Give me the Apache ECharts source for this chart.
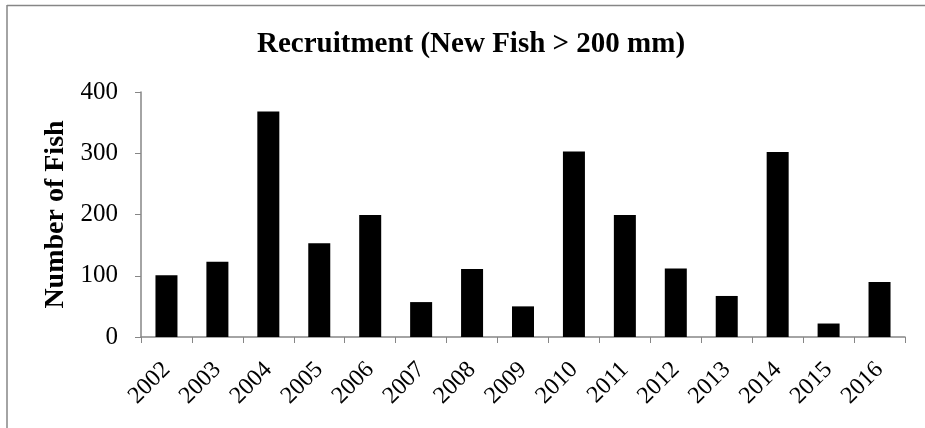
<!DOCTYPE html>
<html>
<head>
<meta charset="utf-8">
<script src="https://cdn.jsdelivr.net/npm/echarts@6/dist/echarts.min.js"></script>
<style>
  html, body { margin: 0; padding: 0; background: #fff; }
  #chart { width: 925px; height: 428px; }
</style>
</head>
<body>
<div id="chart"></div>
<script>
// 年份（类目）
const years = ["2002", "2003", "2004", "2005", "2006", "2007", "2008", "2009",
  "2010", "2011", "2012", "2013", "2014", "2015", "2016"];
// 新鱼数量 (>200 mm)
const newFish = [101, 123, 368, 153, 199, 57, 111, 50, 303, 199, 112, 67, 302, 22, 90];
// y轴刻度
const yMin = 0;
const yMax = 400;
const yStep = 100;

const serif = "'Liberation Serif', 'DejaVu Serif', serif";
const axisGrey = "#868686";

let myChart = echarts.init(document.getElementById("chart"));

let option = {
  animation: false,
  title: {
    text: "Recruitment (New Fish > 200 mm)",
    left: 252,
    top: 25,
    textStyle: {
      fontFamily: serif,
      fontWeight: "bold",
      fontSize: 29,
      color: "#000",
    },
  },
  // 左、上边框
  graphic: [
    {
      type: "line",
      shape: { x1: 7, y1: 5.5, x2: 925, y2: 5.5 },
      style: { stroke: axisGrey, lineWidth: 1.5 },
    },
    {
      type: "line",
      shape: { x1: 7, y1: 5, x2: 7, y2: 428 },
      style: { stroke: axisGrey, lineWidth: 1.5 },
    },
  ],
  grid: {
    left: 141,
    right: 20,
    top: 92,
    bottom: 91,
  },
  xAxis: {
    type: "category",
    data: years,
    boundaryGap: true,
    axisLine: { lineStyle: { color: axisGrey, width: 1.5 } },
    axisTick: { show: true, length: 6, lineStyle: { color: axisGrey } },
    axisLabel: {
      rotate: 45,
      interval: 0,
      margin: 29,
      fontFamily: serif,
      fontSize: 24,
      color: "#000",
    },
  },
  yAxis: {
    type: "value",
    min: yMin,
    max: yMax,
    interval: yStep,
    name: "Number of Fish",
    nameLocation: "middle",
    nameGap: 70,
    nameTextStyle: {
      fontFamily: serif,
      fontWeight: "bold",
      fontSize: 28,
      color: "#000",
    },
    axisLine: { show: true, lineStyle: { color: axisGrey, width: 1.5 } },
    axisTick: { show: true, length: 6, lineStyle: { color: axisGrey } },
    splitLine: { show: false },
    axisLabel: {
      margin: 23,
      fontFamily: serif,
      fontSize: 25,
      color: "#000",
    },
  },
  series: [
    {
      name: "Recruitment",
      type: "bar",
      data: newFish,
      barWidth: 22,
      itemStyle: { color: "#000" },
    },
  ],
};

myChart.setOption(option);
window.addEventListener("resize", function () {
  myChart.resize();
});
</script>
</body>
</html>
